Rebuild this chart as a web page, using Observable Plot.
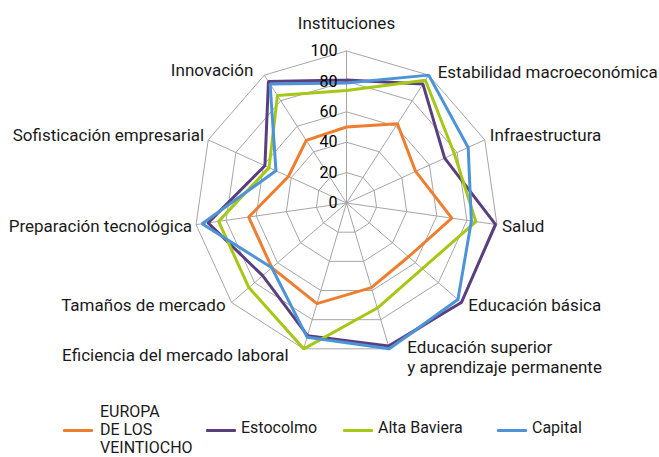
<!DOCTYPE html>
<html>
<head>
<meta charset="utf-8">
<script src="https://cdn.jsdelivr.net/npm/d3@7"></script>
<script src="https://cdn.jsdelivr.net/npm/@observablehq/plot@0.6"></script>
<style>
  html, body { margin: 0; padding: 0; background: #fff; }
  #wrap { width: 659px; height: 457px; position: relative; font-family: Roboto, "Open Sans", sans-serif; color: #1a1a1a; overflow: hidden; }
  #legend { position: relative; width: 659px; height: 54px; font-size: 16px; }
  .sw { position: absolute; width: 30px; height: 3px; border-radius: 1px; }
  .lt { position: absolute; line-height: 18px; white-space: nowrap; }
</style>
</head>
<body>
<div id="wrap"><div id="chart"></div><div id="legend"></div></div>
<script>
// ---- data ----
const categories = [
  "Instituciones",
  "Estabilidad macroeconómica",
  "Infraestructura",
  "Salud",
  "Educación básica",
  "Educación superior\ny aprendizaje permanente",
  "Eficiencia del mercado laboral",
  "Tamaños de mercado",
  "Preparación tecnológica",
  "Sofisticación empresarial",
  "Innovación"
];
const seriesNames = ["EUROPA\nDE LOS\nVEINTIOCHO", "Estocolmo", "Alta Baviera", "Capital"];
const eu28        = [50, 62, 50, 70, 54, 58, 69, 65, 65, 42, 49];
const estocolmo   = [81, 93, 71, 99, 100, 98, 91, 73, 92, 59, 95];
const altaBaviera = [74, 96, 78, 86, 66, 72, 100, 85, 85, 56, 84];
const capital     = [79, 100, 88, 83, 97, 100, 92, 65, 96, 51, 93];
const tickValues  = [0, 20, 40, 60, 80, 100];
const colors      = ["#ef7d2f", "#5a3f7e", "#a5c816", "#4d93d8"];

// ---- layout ----
const W = 659, H = 403, cx = 346, cy = 202.5, pxPerUnit = 1.52;
const n = categories.length;
const ang = i => 2 * Math.PI * i / n;
const px = (v, i) => v * Math.sin(ang(i));
const py = (v, i) => v * Math.cos(ang(i));
// label nudges in pixels [dx, dy] from the outer vertex
const labelNudge = [[0,-28],[9,-4],[5,-5],[5,1],[7,2],[18,8],[-15,6],[-6,2],[-4,1],[-4,-5],[-11,-6]];

const allSeries = [eu28, estocolmo, altaBaviera, capital];
const lineData = [];
allSeries.forEach((vals, s) => {
  for (let k = 0; k <= n; k++) {
    const i = k % n;
    lineData.push({series: seriesNames[s], i, v: vals[i]});
  }
});
const rings = [];
tickValues.filter(t => t > 0).forEach(t => {
  for (let k = 0; k <= n; k++) rings.push({level: t, i: k % n});
});
const labels = categories.map((c, i) => {
  const [dx, dy] = labelNudge[i];
  const s = Math.sin(ang(i));
  return {
    text: c,
    x: px(100, i) + dx / pxPerUnit,
    y: py(100, i) - dy / pxPerUnit,
    anchor: Math.abs(s) < 0.1 ? "middle" : (s > 0 ? "start" : "end")
  };
});
const fontFam = "Roboto, 'Open Sans', sans-serif";
const labelMark = a => Plot.text(labels.filter(d => d.anchor === a), {
  x: "x", y: "y", text: "text", textAnchor: a, lineAnchor: "middle",
  fontSize: 17, fill: "#1a1a1a", lineHeight: 1.18, fontFamily: fontFam
});

const chart = Plot.plot({
  width: W, height: H,
  margin: 0,
  x: {domain: [-cx / pxPerUnit, (W - cx) / pxPerUnit], range: [0, W], axis: null},
  y: {domain: [-(H - cy) / pxPerUnit, cy / pxPerUnit], range: [H, 0], axis: null},
  color: {domain: seriesNames, range: colors},
  style: {fontFamily: fontFam, background: "#fff"},
  marks: [
    Plot.line(rings, {x: d => px(d.level, d.i), y: d => py(d.level, d.i), z: "level", stroke: "#a6a6a6", strokeWidth: 1}),
    Plot.link(categories, {x1: () => 0, y1: () => 0, x2: (d, i) => px(100, i), y2: (d, i) => py(100, i), stroke: "#a6a6a6", strokeWidth: 1}),
    Plot.line(lineData, {x: d => px(d.v, d.i), y: d => py(d.v, d.i), z: "series", stroke: "series", strokeWidth: 3, strokeLinejoin: "miter"}),
    Plot.text(tickValues, {x: () => 0, y: d => d, text: d => String(d), textAnchor: "end", dx: -9, fontSize: 16, fill: "#000", fontFamily: fontFam}),
    labelMark("start"), labelMark("middle"), labelMark("end")
  ]
});
document.getElementById("chart").appendChild(chart);

// ---- legend ----
const legend = document.getElementById("legend");
const swLeft = [63, 206, 343, 497];
seriesNames.forEach((name, s) => {
  const sw = document.createElement("div");
  sw.className = "sw";
  sw.style.left = swLeft[s] + "px";
  sw.style.top = (430.5 - H - 1.5) + "px";
  sw.style.background = colors[s];
  legend.appendChild(sw);
  const lines = name.split("\n");
  const t = document.createElement("div");
  t.className = "lt";
  t.style.left = (swLeft[s] + (s === 0 ? 37 : 35)) + "px";
  t.style.top = (lines.length === 1 ? 428 - H - 9 : 403 - H) + "px";
  t.innerHTML = lines.join("<br>");
  legend.appendChild(t);
});
</script>
</body>
</html>
